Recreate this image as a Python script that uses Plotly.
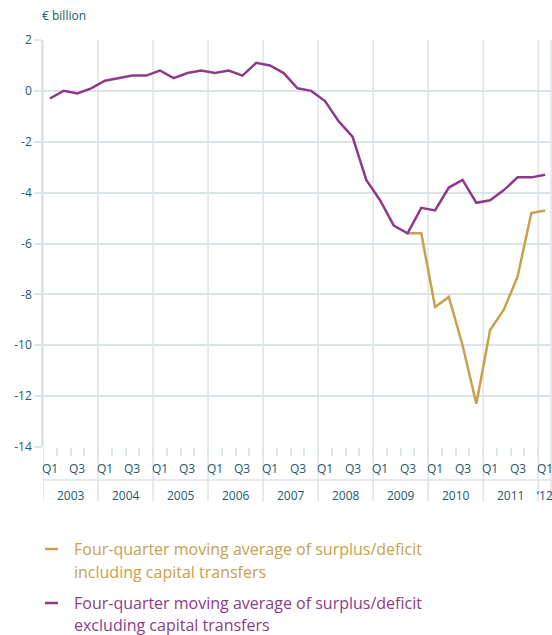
import plotly.graph_objects as go

years = ["2003", "2004", "2005", "2006", "2007", "2008", "2009", "2010", "2011", "‘12"]
quarters = [f"{y}Q{q}" for y in range(2003, 2012) for q in range(1, 5)] + ["2012Q1"]
y_ticks = [2, 0, -2, -4, -6, -8, -10, -12, -14]

excl_capital = [-0.3, 0.0, -0.1, 0.1,
                0.4, 0.5, 0.6, 0.6,
                0.8, 0.5, 0.7, 0.8,
                0.7, 0.8, 0.6, 1.1,
                1.0, 0.7, 0.1, 0.0,
                -0.4, -1.2, -1.8, -3.5,
                -4.3, -5.3, -5.6, -4.6,
                -4.7, -3.8, -3.5, -4.4,
                -4.3, -3.9, -3.4, -3.4,
                -3.3]
incl_capital = [None] * 26 + [-5.6, -5.6,
                              -8.5, -8.1, -10.0, -12.3,
                              -9.4, -8.6, -7.3, -4.8,
                              -4.7]

legend_incl = ["Four-quarter moving average of surplus/deficit", "including capital transfers"]
legend_excl = ["Four-quarter moving average of surplus/deficit", "excluding capital transfers"]

PURPLE = "#8E3A8A"
GOLD = "#C9A04C"
TEXT = "#24596B"
GRID = "#DCE4E7"
FONT = "Open Sans"

W, H = 552, 635
L, R, T, B = 43, 0, 40, 188
ph = H - T - B

def py(pix):
    return (H - B - pix) / ph

def px(pix):
    return (pix - L) / (W - L - R)

xs = list(range(len(quarters)))

fig = go.Figure()
fig.add_trace(go.Scatter(x=xs, y=incl_capital, mode="lines",
                         line=dict(color=GOLD, width=2.5), name=" ".join(legend_incl),
                         showlegend=False, connectgaps=False))
fig.add_trace(go.Scatter(x=xs, y=excl_capital, mode="lines",
                         line=dict(color=PURPLE, width=2.5), name=" ".join(legend_excl),
                         showlegend=False))

shapes = []
annotations = []
n = len(quarters)
# year separators
for i in range(0, n, 4):
    shapes.append(dict(type="line", xref="x", yref="paper", x0=i - 0.5, x1=i - 0.5,
                       y0=1, y1=py(501), line=dict(color=GRID, width=1.5), layer="below"))
shapes.append(dict(type="line", xref="paper", yref="paper", x0=px(551), x1=px(551),
                   y0=1, y1=py(501), line=dict(color=GRID, width=1.5), layer="below"))
# horizontal divider between quarter and year rows
shapes.append(dict(type="line", xref="paper", yref="paper", x0=0, x1=1,
                   y0=py(480), y1=py(480), line=dict(color=GRID, width=1.5)))

for i, q in enumerate(quarters):
    qn = q[-2:]
    if qn in ("Q1", "Q3"):
        annotations.append(dict(x=i, y=py(468.5), xref="x", yref="paper", text=qn,
                                showarrow=False, xanchor="center", yanchor="middle",
                                font=dict(family=FONT, size=12, color=TEXT)))
for k, yl in enumerate(years):
    start = k * 4
    end = min(start + 4, n)
    annotations.append(dict(x=(start + end - 1) / 2, y=py(495), xref="x", yref="paper",
                            text=yl, showarrow=False, xanchor="center", yanchor="middle",
                            font=dict(family=FONT, size=12, color=TEXT)))

annotations.append(dict(x=px(40), y=py(15), xref="paper", yref="paper", text="€ billion",
                        showarrow=False, xanchor="left", yanchor="middle",
                        font=dict(family=FONT, size=12, color=TEXT)))

# legend
for (lines, color, y1, y2) in [(legend_incl, GOLD, 549, 572), (legend_excl, PURPLE, 603, 625)]:
    shapes.append(dict(type="line", xref="paper", yref="paper", x0=px(45), x1=px(58),
                       y0=py(y1), y1=py(y1), line=dict(color=color, width=2.5)))
    for txt, yy in zip(lines, (y1, y2)):
        annotations.append(dict(x=px(72), y=py(yy), xref="paper", yref="paper", text=txt,
                                showarrow=False, xanchor="left", yanchor="middle",
                                font=dict(family=FONT, size=16, color=color)))

fig.update_layout(
    width=W, height=H,
    margin=dict(l=L, r=R, t=T, b=B),
    paper_bgcolor="white", plot_bgcolor="white",
    shapes=shapes, annotations=annotations,
    xaxis=dict(range=[-0.5, n - 0.5], showgrid=False, zeroline=False,
               tickmode="array", tickvals=[i - 0.5 for i in range(1, n)],
               ticks="outside", ticklen=8, tickcolor=GRID, tickwidth=1.5,
               showticklabels=False, showline=False, fixedrange=True),
    yaxis=dict(range=[-14, 2], tickmode="array", tickvals=y_ticks,
               ticktext=[str(v) for v in y_ticks],
               showgrid=True, gridcolor=GRID, gridwidth=1.5,
               zeroline=False, ticks="outside", ticklen=7, tickcolor=GRID, tickwidth=1.5,
               showline=True, linecolor=GRID, linewidth=1.5,
               tickfont=dict(family=FONT, size=12, color=TEXT), fixedrange=True),
)

fig.write_html("out.html", config={"displayModeBar": False},
               post_script="document.body.style.margin='0';document.body.style.overflow='hidden';")
